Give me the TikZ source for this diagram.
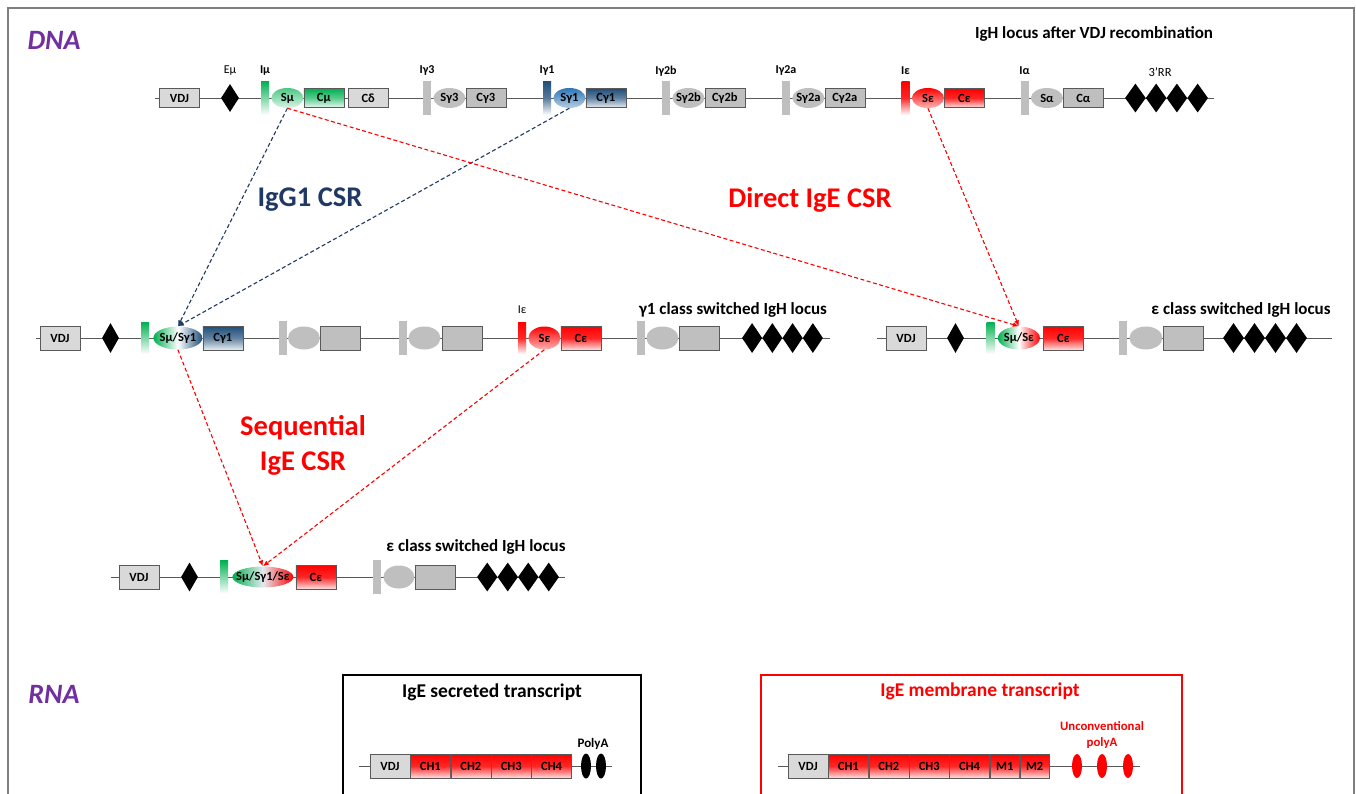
\documentclass[tikz,border=0pt]{standalone}
\usepackage{fontspec}
\setmainfont{Carlito}
\usetikzlibrary{positioning, arrows.meta, shapes.geometric}
\definecolor{frame}{HTML}{7F7F7F}
\definecolor{boxline}{HTML}{595959}
\definecolor{grylite}{HTML}{D9D9D9}
\definecolor{grymid}{HTML}{BFBFBF}
\definecolor{grn}{HTML}{00B050}
\definecolor{blu}{HTML}{1F4E79}
\definecolor{blusw}{HTML}{2E75B6}
\definecolor{navy}{HTML}{1F3864}
\definecolor{ige}{HTML}{FF0000}
\definecolor{purp}{HTML}{7030A0}

\begin{document}
\begin{tikzpicture}[x=1pt, y=-1pt,
  locus/.style={draw=boxline, line width=0.8pt},
  gene/.style={draw=boxline, minimum width=40pt, minimum height=19pt, inner sep=0pt,
               font=\bfseries\fontsize{12.5}{13}\selectfont},
  tall/.style={gene, minimum height=24pt},
  sw/.style={ellipse, minimum width=32pt, minimum height=20pt, inner xsep=-12pt, inner ysep=0pt,
             font=\bfseries\fontsize{12.5}{13}\selectfont},
  ibar/.style={minimum width=8pt, minimum height=34pt, inner sep=0pt},
  gbar/.style={ibar, fill=grymid},
  enh/.style={diamond, fill=black, minimum width=18pt, minimum height=28pt, inner sep=0pt},
  lbl/.style={font=\bfseries\fontsize{12}{13}\selectfont},
  head/.style={font=\bfseries\fontsize{17}{19}\selectfont},
  big/.style={font=\bfseries\fontsize{28.5}{35}\selectfont},
  csr/.style={line width=1.1pt, dash pattern=on 4pt off 2.5pt, -{Latex[length=6pt,width=5pt]}}]
  \useasboundingbox (0,0) rectangle (1356,793);
  \fill[white] (0,0) rectangle (1356,793);
  \clip (0,0) rectangle (1356,793);
  \draw[frame, line width=1.5pt] (8,8) rectangle (1354,820);
  \node[purp, font=\bfseries\itshape\fontsize{28}{30}\selectfont] (dna) at (54,40) {DNA};
  \node[purp, font=\bfseries\itshape\fontsize{28}{30}\selectfont] (rna) at (54,694) {RNA};

  % germline locus
  \node[head] (t1) at (1094,34) {IgH locus after VDJ recombination};
  \coordinate (r1a) at (155,98); \coordinate (r1b) at (1214,98);
  \draw[locus] (r1a) -- (r1b);
  \node[gene, fill=grylite] (vdj1) at (179.5,98) {VDJ};
  \node[enh] (emu1) at (230,98) {};
  \node[ibar, top color=grn, bottom color=white] (imu1) at (265,98) {};
  \node[sw, top color=grn!70, bottom color=grn!15, right=2pt of imu1] (smu1) {Sμ};
  \node[gene, top color=grn, bottom color=grn!8, middle color=grn!65, right=0pt of smu1] (cmu1) {Cμ};
  \node[gene, fill=grylite, right=4pt of cmu1] (cdel1) {Cδ};
  \node[gbar] (ig31) at (427,98) {};
  \node[sw, fill=grymid, right=2pt of ig31] (sg31) {Sγ3};
  \node[gene, fill=grymid, right=0pt of sg31] (cg31) {Cγ3};
  \node[ibar, top color=blu, bottom color=white, middle color=blu!75] (ig11) at (547,98) {};
  \node[sw, top color=blusw, bottom color=blusw!35, right=2pt of ig11] (sg11) {Sγ1};
  \node[gene, top color=blu, bottom color=blu!10, middle color=blu!70, right=0pt of sg11] (cg11) {Cγ1};
  \node[gbar] (ig2b1) at (666,98) {};
  \node[sw, fill=grymid, right=2pt of ig2b1] (sg2b1) {Sγ2b};
  \node[gene, fill=grymid, right=0pt of sg2b1] (cg2b1) {Cγ2b};
  \node[gbar] (ig2a1) at (786,98) {};
  \node[sw, fill=grymid, right=2pt of ig2a1] (sg2a1) {Sγ2a};
  \node[gene, fill=grymid, right=0pt of sg2a1] (cg2a1) {Cγ2a};
  \node[ibar, top color=ige, bottom color=white, middle color=ige!85] (ie1) at (905.5,98) {};
  \node[sw, top color=ige, bottom color=ige!30, right=2pt of ie1] (se1) {Sε};
  \node[gene, top color=ige, bottom color=ige!12, middle color=ige!85, right=0pt of se1] (ce1) {Cε};
  \node[gbar] (ia1) at (1024.5,98) {};
  \node[sw, fill=grymid, right=2pt of ia1] (sa1) {Sα};
  \node[gene, fill=grymid, right=0pt of sa1] (ca1) {Cα};
  \foreach \i in {0,...,3}
    \node[enh, minimum width=20.75pt, minimum height=29pt] (rr\i) at (1135.4+20.75*\i,98) {};
  \node[font=\fontsize{12}{13}\selectfont] (lemu1) at (230,71) {Eμ};
  \node[lbl] (limu1) at (265,71) {Iμ};
  \node[lbl] (lig31) at (427,71) {Iγ3};
  \node[lbl] (lig11) at (547,71) {Iγ1};
  \node[lbl] (lig2b1) at (666,71) {Iγ2b};
  \node[lbl] (lig2a1) at (786,71) {Iγ2a};
  \node[lbl] (lie1) at (905.5,71) {Iε};
  \node[lbl] (lia1) at (1024.5,71) {Iα};
  \node[font=\fontsize{12.5}{13}\selectfont] (lrr1) at (1160,72) {3’RR};

  % gamma1 switched locus
  \node[head] (t2) at (733,310) {γ1 class switched IgH locus};
  \coordinate (r2a) at (36,338); \coordinate (r2b) at (830,338);
  \draw[locus] (r2a) -- (r2b);
  \node[tall, fill=grylite] (vdj2) at (60,338) {VDJ};
  \node[enh, minimum width=17pt, minimum height=30pt] (emu2) at (110.5,338) {};
  \node[ibar, minimum height=32pt, top color=grn, bottom color=white] (imu2) at (145,338) {};
  \node[sw, minimum width=49pt, minimum height=23pt, left color=grn, right color=blu, middle color=white,
        right=4pt of imu2] (smg2) {Sμ/Sγ1};
  \node[tall, top color=blu, bottom color=blu!10, middle color=blu!70, right=0pt of smg2] (cg12) {Cγ1};
  \node[gbar] (gb21) at (282.5,338) {};
  \node[sw, fill=grymid, minimum height=23pt, right=1pt of gb21] (ge21) {};
  \node[tall, fill=grymid, right=0pt of ge21] (gx21) {};
  \node[gbar] (gb22) at (403,338) {};
  \node[sw, fill=grymid, minimum height=23pt, right=1pt of gb22] (ge22) {};
  \node[tall, fill=grymid, right=1pt of ge22] (gx22) {};
  \node[ibar, minimum height=32pt, top color=ige, bottom color=white, middle color=ige!85] (ie2) at (522,338) {};
  \node[sw, minimum height=23pt, top color=ige, bottom color=ige!30, right=2pt of ie2] (se2) {Sε};
  \node[tall, top color=ige, bottom color=ige!12, middle color=ige!85, right=0pt of se2] (ce2) {Cε};
  \node[gbar] (gb23) at (641,338) {};
  \node[sw, fill=grymid, minimum height=23pt, right=1pt of gb23] (ge23) {};
  \node[tall, fill=grymid, right=0pt of ge23] (gx23) {};
  \foreach \i in {0,...,3}
    \node[enh, minimum width=20.25pt, minimum height=30pt] (rrb\i) at (752.1+20.25*\i,338) {};
  \node[font=\fontsize{12}{13}\selectfont] (lie2) at (522,310) {Iε};

  % epsilon switched locus (direct)
  \node[head] (t3) at (1241,310) {ε class switched IgH locus};
  \coordinate (r3a) at (877,338); \coordinate (r3b) at (1332,338);
  \draw[locus] (r3a) -- (r3b);
  \node[tall, fill=grylite] (vdj3) at (906,338) {VDJ};
  \node[enh, minimum width=17pt, minimum height=30pt] (emu3) at (955.5,338) {};
  \node[ibar, minimum height=32pt, top color=grn, bottom color=white] (imu3) at (990.5,338) {};
  \node[sw, minimum width=42pt, minimum height=23pt, left color=grn, right color=ige, middle color=white,
        right=3pt of imu3] (sme3) {Sμ/Sε};
  \node[tall, top color=ige, bottom color=ige!12, middle color=ige!85, right=3pt of sme3] (ce3) {Cε};
  \node[gbar] (gb31) at (1123,338) {};
  \node[sw, fill=grymid, minimum width=33pt, minimum height=23pt, right=2pt of gb31] (ge31) {};
  \node[tall, fill=grymid, right=0pt of ge31] (gx31) {};
  \foreach \i in {0,...,3}
    \node[enh, minimum width=21pt, minimum height=30pt] (rrc\i) at (1233.5+21*\i,338) {};

  % epsilon switched locus (sequential)
  \node[head] (t4) at (476,547) {ε class switched IgH locus};
  \coordinate (r4a) at (111,577); \coordinate (r4b) at (565,577);
  \draw[locus] (r4a) -- (r4b);
  \node[tall, fill=grylite] (vdj4) at (139,577) {VDJ};
  \node[enh, minimum width=17pt, minimum height=29pt] (emu4) at (189.5,577) {};
  \node[ibar, minimum height=33pt, top color=grn, bottom color=white] (imu4) at (224,577) {};
  \node[sw, minimum width=61pt, minimum height=21pt, left color=grn, right color=ige, middle color=blu!12,
        right=4pt of imu4] (sme4) {Sμ/Sγ1/Sε};
  \node[tall, top color=ige, bottom color=ige!12, middle color=ige!85, right=2pt of sme4] (ce4) {Cε};
  \node[gbar] (gb41) at (377,577) {};
  \node[sw, fill=grymid, minimum width=31pt, minimum height=23pt, right=2pt of gb41] (ge41) {};
  \node[tall, fill=grymid, right=0pt of ge41] (gx41) {};
  \foreach \i in {0,...,3}
    \node[enh, minimum width=20.5pt, minimum height=29pt] (rrd\i) at (487.25+20.5*\i,577) {};

  % recombinations
  \node[big, navy] (g1csr) at (310,200) {IgG1 CSR};
  \node[big, ige] (dircsr) at (810,200) {Direct IgE CSR};
  \node[big, ige, align=center] (seqcsr) at (303,445) {Sequential\\IgE CSR};
  \draw[csr, navy] (smu1.south) -- (smg2.north);
  \draw[csr, navy] (sg11.south) -- (smg2.north);
  \draw[csr, ige] (smu1.south) -- (sme3.north);
  \draw[csr, ige] (se1.south) -- (sme3.north);
  \draw[csr, ige] (smg2.south) -- (sme4.north);
  \draw[csr, ige] (se2.south) -- (sme4.north);

  % transcripts
  \draw[black, line width=1.2pt] (343,675) rectangle (641,820);
  \node[font=\bfseries\fontsize{19.5}{21}\selectfont] (secr) at (492,692) {IgE secreted transcript};
  \coordinate (s1a) at (359,766); \coordinate (s1b) at (612,766);
  \draw[locus] (s1a) -- (s1b);
  \node[tall, fill=grylite] (svdj) at (390,766) {VDJ};
  \node[tall, top color=ige, bottom color=ige!12, middle color=ige!85, right=0pt of svdj] (sch1) {CH1};
  \node[tall, top color=ige, bottom color=ige!12, middle color=ige!85, right=0pt of sch1] (sch2) {CH2};
  \node[tall, top color=ige, bottom color=ige!12, middle color=ige!85, right=0pt of sch2] (sch3) {CH3};
  \node[tall, top color=ige, bottom color=ige!12, middle color=ige!85, right=0pt of sch3] (sch4) {CH4};
  \node[ellipse, fill=black, minimum width=10pt, minimum height=25pt, inner sep=0pt] (pa1) at (586,766) {};
  \node[ellipse, fill=black, minimum width=10pt, minimum height=25pt, inner sep=0pt] (pa2) at (601,766) {};
  \node[font=\bfseries\fontsize{13}{14}\selectfont] (lpa) at (593,744) {PolyA};

  \draw[ige, line width=1.2pt] (761,675) rectangle (1182,820);
  \node[ige, font=\bfseries\fontsize{19.5}{21}\selectfont] (memb) at (980,691) {IgE membrane transcript};
  \coordinate (m1a) at (778,766); \coordinate (m1b) at (1140,766);
  \draw[locus] (m1a) -- (m1b);
  \node[tall, fill=grylite] (mvdj) at (808,766) {VDJ};
  \node[tall, top color=ige, bottom color=ige!12, middle color=ige!85, right=0pt of mvdj] (mch1) {CH1};
  \node[tall, top color=ige, bottom color=ige!12, middle color=ige!85, right=0pt of mch1] (mch2) {CH2};
  \node[tall, top color=ige, bottom color=ige!12, middle color=ige!85, right=0pt of mch2] (mch3) {CH3};
  \node[tall, top color=ige, bottom color=ige!12, middle color=ige!85, right=0pt of mch3] (mch4) {CH4};
  \node[tall, minimum width=29.5pt, top color=ige, bottom color=ige!12, middle color=ige!85, right=0pt of mch4] (mm1) {M1};
  \node[tall, minimum width=29.5pt, top color=ige, bottom color=ige!12, middle color=ige!85, right=0pt of mm1] (mm2) {M2};
  \foreach \i/\x in {1/1077, 2/1102, 3/1128}
    \node[ellipse, fill=ige, minimum width=10pt, minimum height=24pt, inner sep=0pt] (upa\i) at (\x,766) {};
  \node[ige, align=center, font=\bfseries\fontsize{12.8}{16}\selectfont] (lupa) at (1102,735) {Unconventional\\polyA};
\end{tikzpicture}
\end{document}
